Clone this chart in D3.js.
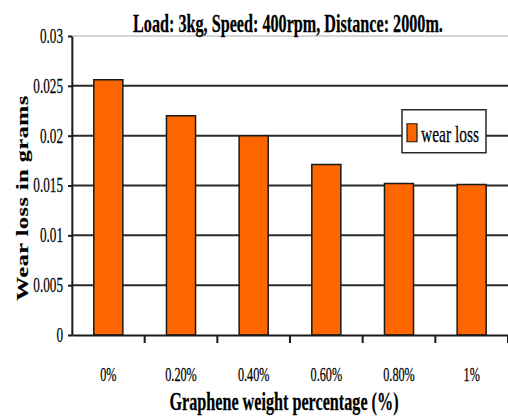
<!DOCTYPE html>
<html>
<head>
<meta charset="utf-8">
<script src="https://cdn.jsdelivr.net/npm/d3@7"></script>
<style>
    body { margin: 0; background: #fff; }
    svg { display: block; }
    text { font-family: "Liberation Serif", "Times New Roman", serif; fill: #000; stroke: #000; stroke-width: 0.25; }
    line, rect, path { vector-effect: non-scaling-stroke; }
</style>
</head>
<body>
<div id="chart"></div>
<script>
const categories = ["0%", "0.20%", "0.40%", "0.60%", "0.80%", "1%"];
const wearLoss = [0.0256, 0.0220, 0.0200, 0.0171, 0.0152, 0.0151];
const yTicks = [0, 0.005, 0.01, 0.015, 0.02, 0.025, 0.03];
const seriesName = "wear loss";

// the source picture is narrowed sideways: draw wide, then squeeze the whole svg
const squeeze = 0.66;
const width = 508;
const height = 416;
const wideWidth = width / squeeze;
const margin = { top: 36, right: 0, bottom: 81, left: 72 / squeeze };
const innerWidth = wideWidth - margin.left - margin.right;
const innerHeight = height - margin.top - margin.bottom;
const barColor = "#ff6600";

const xScale = d3.scaleBand().domain(categories).range([0, innerWidth])
    .paddingInner(0.6).paddingOuter(0.3);
const yScale = d3.scaleLinear().domain([0, 0.03]).range([innerHeight, 0]);

const svg = d3.select("#chart").append("svg")
    .attr("width", width).attr("height", height)
    .attr("viewBox", `0 0 ${wideWidth} ${height}`)
    .attr("preserveAspectRatio", "none");

const innerChart = svg.append("g")
    .attr("transform", `translate(${margin.left}, ${margin.top})`);

// gridlines
innerChart.selectAll(".grid")
    .data(yTicks.filter(d => d > 0))
    .join("line")
    .attr("class", "grid")
    .attr("x1", 0).attr("x2", innerWidth)
    .attr("y1", d => yScale(d)).attr("y2", d => yScale(d))
    .attr("stroke", d => d === 0.03 ? "#c8c8c8" : "#2a2a2a")
    .attr("stroke-width", d => d === 0.03 ? 1.5 : 2);

// bars
innerChart.selectAll(".bar")
    .data(wearLoss)
    .join("rect")
    .attr("class", "bar")
    .attr("x", (d, i) => xScale(categories[i]))
    .attr("width", xScale.bandwidth())
    .attr("y", d => yScale(d))
    .attr("height", d => innerHeight - yScale(d))
    .attr("fill", barColor)
    .attr("stroke", "#1a1a1a")
    .attr("stroke-width", 1.5);

// y axis
const yAxis = innerChart.append("g")
    .attr("class", "y-axis")
    .call(d3.axisLeft(yScale).tickValues(yTicks).tickFormat(d => String(+d.toFixed(3)))
        .tickSize(4 / squeeze).tickSizeOuter(0).tickPadding(5 / squeeze));
yAxis.select(".domain").attr("stroke", "#1a1a1a").attr("stroke-width", 2);
yAxis.selectAll(".tick line").attr("stroke", "#1a1a1a").attr("stroke-width", 2);
yAxis.selectAll(".tick text").attr("font-size", 20);

// x axis: ticks sit between categories
const xAxis = innerChart.append("g")
    .attr("class", "x-axis")
    .attr("transform", `translate(0, ${innerHeight})`)
    .call(d3.axisBottom(xScale).tickSize(0).tickPadding(33));
xAxis.select(".domain").attr("stroke", "#1a1a1a").attr("stroke-width", 2);
xAxis.selectAll(".tick text").attr("font-size", 18.5);
xAxis.selectAll(".sep")
    .data(categories)
    .join("line")
    .attr("class", "sep")
    .attr("x1", d => xScale(d) + xScale.bandwidth() + xScale.step() * 0.3)
    .attr("x2", d => xScale(d) + xScale.bandwidth() + xScale.step() * 0.3)
    .attr("y1", 0).attr("y2", 8)
    .attr("stroke", "#1a1a1a").attr("stroke-width", 2);

// legend
const legend = innerChart.append("g")
    .attr("transform", `translate(${innerWidth - 106 / squeeze}, ${yScale(0.0226)})`);
legend.append("rect")
    .attr("width", 84 / squeeze).attr("height", 43)
    .attr("fill", "#fff").attr("stroke", "#2a2a2a").attr("stroke-width", 1.5);
legend.append("rect")
    .attr("x", 5 / squeeze).attr("y", 14).attr("width", 10 / squeeze).attr("height", 18)
    .attr("fill", barColor).attr("stroke", "#1a1a1a").attr("stroke-width", 1.2);
legend.append("text")
    .attr("x", 19 / squeeze).attr("y", 32)
    .attr("font-size", 23.5)
    .text(seriesName);

// title and axis labels
svg.append("text")
    .attr("x", 288 / squeeze).attr("y", 32)
    .attr("text-anchor", "middle")
    .attr("font-size", 24.5).attr("font-weight", "bold")
    .text("Load: 3kg, Speed: 400rpm, Distance: 2000m.");

svg.append("text")
    .attr("x", 284 / squeeze).attr("y", 410)
    .attr("text-anchor", "middle")
    .attr("font-size", 24.5).attr("font-weight", "bold")
    .text("Graphene weight percentage (%)");

svg.append("text")
    .attr("transform", `translate(${28 / squeeze}, 198) rotate(-90)`)
    .attr("text-anchor", "middle")
    .attr("font-size", 24).attr("font-weight", "bold")
    .attr("letter-spacing", 0.6)
    .text("Wear loss in grams");
</script>
</body>
</html>
